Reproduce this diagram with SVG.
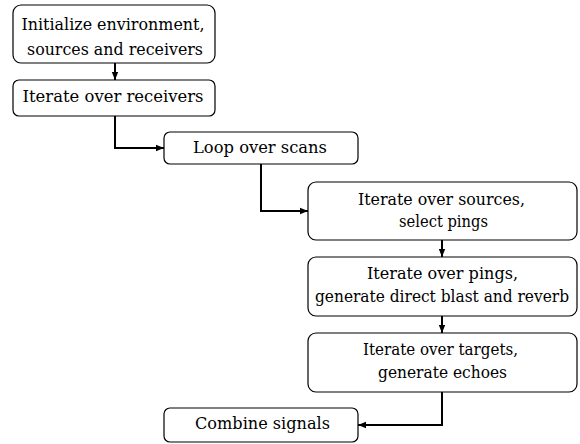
<svg xmlns="http://www.w3.org/2000/svg" width="580" height="444" viewBox="0 0 580 444">
  <style>
    .box { fill: #ffffff; stroke: #000000; stroke-width: 1.2; }
    .lbl { font-family: 'DejaVu Serif', serif; font-size: 17px; fill: #000000; text-anchor: middle; }
    .wire { fill: none; stroke: #000000; stroke-width: 2; }
  </style>
  <defs>
    <marker id="arrow" viewBox="0 0 10 10" refX="10" refY="5" markerWidth="4" markerHeight="4" orient="auto" markerUnits="strokeWidth">
      <path d="M0,1 L10,5 L0,9 z" fill="#000000"/>
    </marker>
  </defs>
  <rect width="580" height="444" fill="#ffffff"/>

  <g id="connectors">
    <path class="wire" d="M115,63 V80" marker-end="url(#arrow)"/>
    <path class="wire" d="M115,116 V148 H164" marker-end="url(#arrow)"/>
    <path class="wire" d="M261,164 V211 H308" marker-end="url(#arrow)"/>
    <path class="wire" d="M442,240 V257" marker-end="url(#arrow)"/>
    <path class="wire" d="M442,316 V333" marker-end="url(#arrow)"/>
    <path class="wire" d="M442,392 V425 H358" marker-end="url(#arrow)"/>
  </g>

  <g id="init">
    <rect class="box" x="13" y="5" width="202" height="58" rx="8"/>
    <text class="lbl" x="113" y="30" textLength="183" lengthAdjust="spacingAndGlyphs">Initialize environment,</text>
    <text class="lbl" x="115" y="55" textLength="176" lengthAdjust="spacingAndGlyphs">sources and receivers</text>
  </g>
  <g id="receivers">
    <rect class="box" x="13" y="80" width="202" height="36" rx="6"/>
    <text class="lbl" x="113" y="102" textLength="181" lengthAdjust="spacingAndGlyphs">Iterate over receivers</text>
  </g>
  <g id="scans">
    <rect class="box" x="164" y="132" width="194" height="32" rx="6"/>
    <text class="lbl" x="260" y="153" textLength="134" lengthAdjust="spacingAndGlyphs">Loop over scans</text>
  </g>
  <g id="sources">
    <rect class="box" x="308" y="182" width="269" height="58" rx="8"/>
    <text class="lbl" x="441.5" y="205" textLength="167" lengthAdjust="spacingAndGlyphs">Iterate over sources,</text>
    <text class="lbl" x="443.5" y="227" textLength="89" lengthAdjust="spacingAndGlyphs">select pings</text>
  </g>
  <g id="pings">
    <rect class="box" x="308" y="257" width="269" height="59" rx="8"/>
    <text class="lbl" x="442.5" y="279" textLength="151" lengthAdjust="spacingAndGlyphs">Iterate over pings,</text>
    <text class="lbl" x="442" y="302" font-size="15.5" textLength="254" lengthAdjust="spacingAndGlyphs">generate direct blast and reverb</text>
  </g>
  <g id="targets">
    <rect class="box" x="308" y="333" width="269" height="59" rx="8"/>
    <text class="lbl" x="440.5" y="355" textLength="155" lengthAdjust="spacingAndGlyphs">Iterate over targets,</text>
    <text class="lbl" x="442.5" y="378" textLength="129" lengthAdjust="spacingAndGlyphs">generate echoes</text>
  </g>
  <g id="combine">
    <rect class="box" x="164" y="408" width="194" height="34" rx="6"/>
    <text class="lbl" x="262.5" y="429" textLength="135" lengthAdjust="spacingAndGlyphs">Combine signals</text>
  </g>
</svg>
